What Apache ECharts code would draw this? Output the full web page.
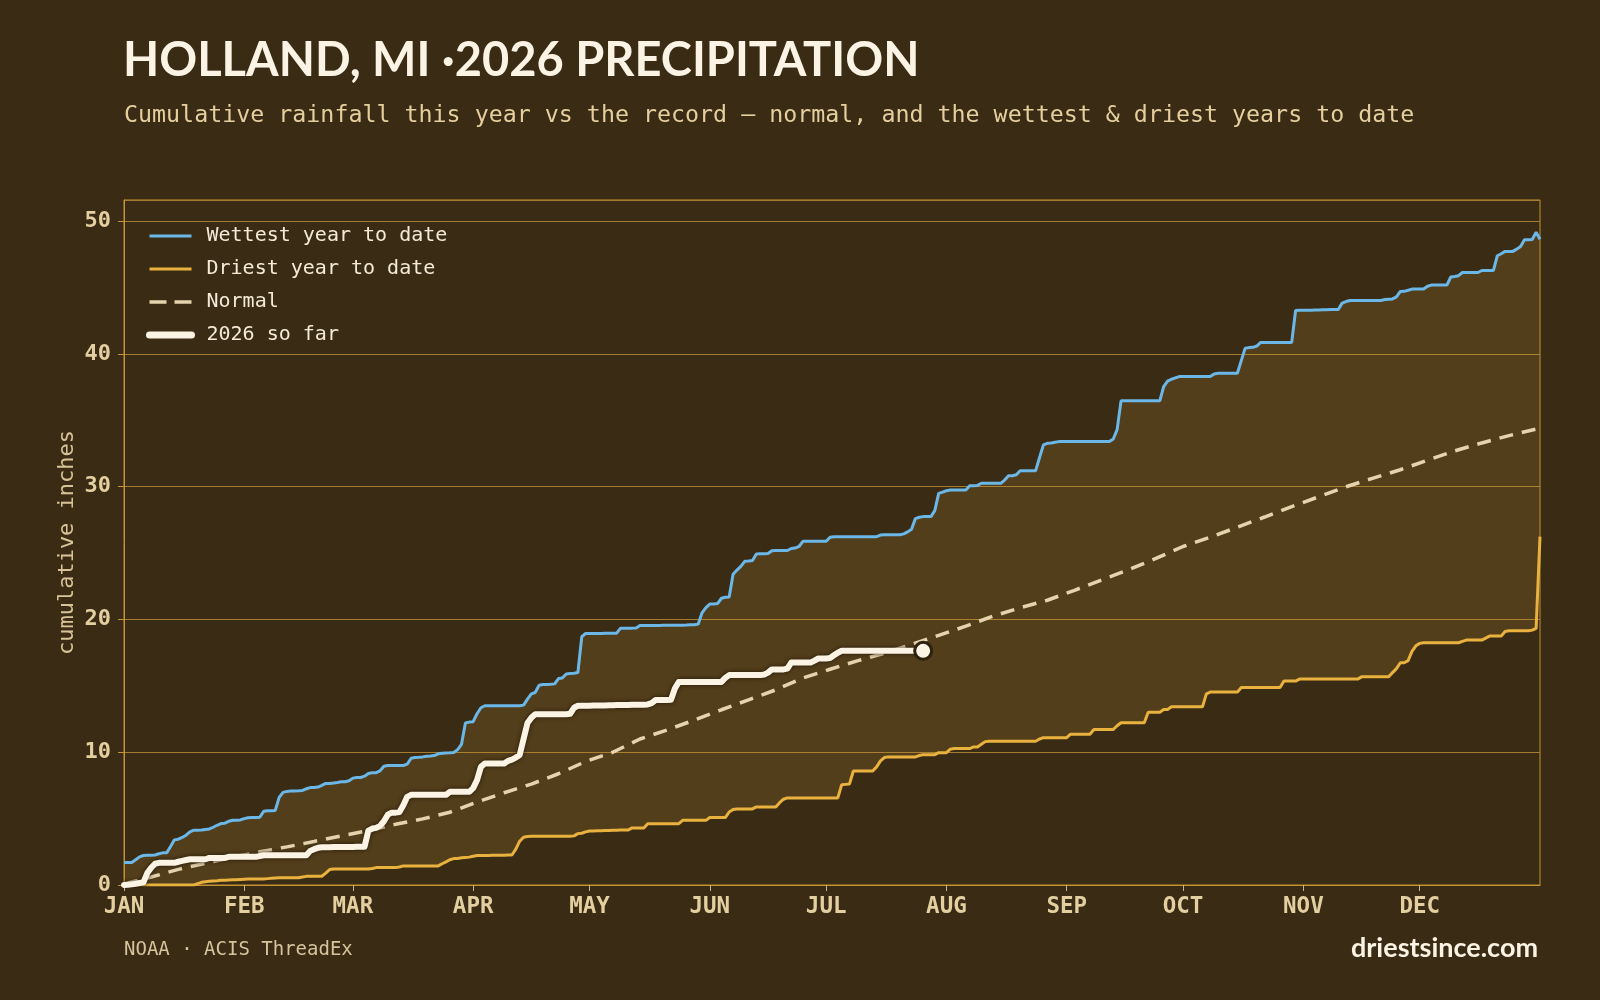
<!DOCTYPE html>
<html>
<head>
<meta charset="utf-8">
<script src="https://cdn.jsdelivr.net/npm/echarts@6/dist/echarts.min.js"></script>
<style>
  html, body { margin: 0; padding: 0; background: #3a2b14; }
  #main { width: 1600px; height: 1000px; }
</style>
</head>
<body>
<div id="main"></div>
<script>
// month starts (day index from Jan 1) and their labels
var monthStart = [0, 31, 59, 90, 120, 151, 181, 212, 243, 273, 304, 334];
var monthLabels = ['JAN', 'FEB', 'MAR', 'APR', 'MAY', 'JUN', 'JUL', 'AUG', 'SEP', 'OCT', 'NOV', 'DEC'];

// wettest year to date, cumulative inches, one value per day (0..365)
var wettest = [
  1.69,1.69,1.70,1.90,2.12,2.22,2.24,2.25,2.26,2.35,
  2.42,2.42,2.90,3.40,3.45,3.58,3.75,4.00,4.13,4.13,
  4.14,4.18,4.22,4.35,4.50,4.63,4.66,4.80,4.88,4.88,
  4.90,5.00,5.06,5.08,5.08,5.10,5.55,5.59,5.60,5.62,
  6.60,6.98,7.05,7.09,7.09,7.10,7.12,7.25,7.34,7.34,
  7.38,7.50,7.65,7.65,7.68,7.72,7.77,7.78,7.85,8.05,
  8.10,8.10,8.20,8.40,8.45,8.46,8.60,8.95,9.00,9.00,
  9.00,9.00,9.00,9.10,9.55,9.60,9.62,9.65,9.70,9.72,
  9.75,9.88,9.92,9.95,9.96,9.98,10.20,10.60,12.20,12.27,
  12.30,12.90,13.35,13.50,13.50,13.50,13.50,13.50,13.50,13.50,
  13.50,13.50,13.50,13.55,14.00,14.40,14.50,15.05,15.10,15.10,
  15.12,15.15,15.55,15.60,15.90,15.94,15.95,16.00,18.70,18.95,
  18.95,18.95,18.95,18.95,18.96,18.96,18.97,18.97,19.35,19.35,
  19.35,19.35,19.36,19.55,19.55,19.55,19.55,19.55,19.55,19.56,
  19.56,19.56,19.56,19.57,19.57,19.58,19.60,19.60,19.65,20.50,
  20.90,21.16,21.16,21.20,21.60,21.67,21.70,23.40,23.72,24.00,
  24.38,24.40,24.45,24.93,24.95,24.95,24.97,25.18,25.20,25.20,
  25.20,25.20,25.35,25.38,25.50,25.89,25.90,25.90,25.90,25.90,
  25.90,25.90,26.20,26.24,26.24,26.24,26.24,26.24,26.24,26.24,
  26.24,26.24,26.24,26.24,26.24,26.36,26.38,26.38,26.38,26.38,
  26.38,26.45,26.60,26.80,27.60,27.70,27.75,27.75,27.75,28.20,
  29.50,29.60,29.70,29.75,29.75,29.75,29.75,29.75,30.08,30.08,
  30.10,30.26,30.26,30.26,30.26,30.26,30.26,30.50,30.83,30.83,
  30.90,31.20,31.21,31.21,31.21,31.21,32.20,33.15,33.27,33.30,
  33.35,33.40,33.40,33.40,33.40,33.40,33.40,33.40,33.40,33.40,
  33.40,33.40,33.40,33.40,33.40,33.60,34.30,36.47,36.47,36.47,
  36.47,36.47,36.47,36.47,36.47,36.47,36.47,36.47,37.55,37.95,
  38.10,38.20,38.30,38.30,38.30,38.30,38.30,38.30,38.30,38.30,
  38.30,38.50,38.55,38.55,38.55,38.55,38.55,38.55,39.50,40.44,
  40.48,40.50,40.60,40.87,40.87,40.87,40.87,40.87,40.87,40.87,
  40.87,40.87,43.28,43.30,43.30,43.30,43.30,43.31,43.32,43.33,
  43.34,43.35,43.35,43.35,43.83,43.95,44.03,44.03,44.03,44.03,
  44.03,44.03,44.03,44.03,44.03,44.10,44.13,44.15,44.30,44.71,
  44.72,44.80,44.89,44.89,44.89,44.89,45.10,45.19,45.19,45.19,
  45.19,45.19,45.80,45.84,45.90,46.14,46.14,46.14,46.14,46.14,
  46.29,46.29,46.29,46.29,47.40,47.55,47.73,47.73,47.73,47.90,
  48.10,48.60,48.60,48.62,49.18,48.65
];

// driest year to date
var driest = [
  0,0,0,0,0,0,0,0,0,0,
  0,0,0,0,0,0,0,0,0,0.10,
  0.20,0.25,0.28,0.30,0.32,0.35,0.36,0.38,0.40,0.40,
  0.42,0.44,0.46,0.46,0.46,0.46,0.46,0.48,0.50,0.52,
  0.54,0.54,0.54,0.54,0.54,0.54,0.60,0.65,0.66,0.66,
  0.66,0.66,0.90,1.16,1.21,1.21,1.21,1.21,1.21,1.21,
  1.21,1.21,1.21,1.21,1.25,1.31,1.31,1.31,1.31,1.31,
  1.31,1.36,1.44,1.44,1.44,1.44,1.44,1.44,1.44,1.44,
  1.44,1.44,1.60,1.74,1.90,1.99,2.00,2.05,2.08,2.10,
  2.16,2.22,2.22,2.23,2.23,2.24,2.24,2.25,2.25,2.26,
  2.26,2.70,3.30,3.60,3.65,3.67,3.67,3.67,3.67,3.67,
  3.67,3.67,3.67,3.67,3.67,3.67,3.70,3.87,3.90,4.00,
  4.07,4.07,4.08,4.09,4.10,4.11,4.12,4.13,4.14,4.15,
  4.15,4.30,4.30,4.30,4.30,4.62,4.62,4.62,4.62,4.62,
  4.62,4.62,4.62,4.62,4.87,4.87,4.87,4.87,4.87,4.87,
  4.87,5.08,5.08,5.08,5.08,5.08,5.50,5.68,5.73,5.73,
  5.73,5.73,5.73,5.88,5.88,5.88,5.88,5.88,5.88,6.20,
  6.46,6.56,6.56,6.56,6.56,6.56,6.56,6.56,6.56,6.56,
  6.56,6.56,6.56,6.56,6.56,7.56,7.58,7.60,8.59,8.59,
  8.59,8.59,8.59,8.59,8.90,9.35,9.60,9.65,9.65,9.65,
  9.65,9.65,9.65,9.65,9.65,9.75,9.82,9.82,9.82,9.82,
  9.97,9.97,9.97,10.23,10.28,10.28,10.28,10.28,10.28,10.40,
  10.40,10.60,10.80,10.83,10.83,10.83,10.83,10.83,10.83,10.83,
  10.83,10.83,10.83,10.83,10.83,10.83,11.00,11.10,11.10,11.10,
  11.10,11.10,11.10,11.10,11.36,11.36,11.36,11.36,11.36,11.36,
  11.71,11.71,11.71,11.71,11.71,11.71,12.00,12.22,12.22,12.22,
  12.22,12.22,12.22,12.22,13.02,13.02,13.02,13.02,13.22,13.22,
  13.42,13.42,13.42,13.42,13.42,13.42,13.42,13.42,13.42,14.40,
  14.53,14.53,14.53,14.53,14.53,14.53,14.53,14.53,14.88,14.88,
  14.88,14.88,14.88,14.88,14.88,14.88,14.88,14.88,14.88,15.36,
  15.36,15.36,15.36,15.51,15.51,15.51,15.51,15.51,15.51,15.51,
  15.51,15.51,15.51,15.51,15.51,15.51,15.51,15.51,15.51,15.68,
  15.68,15.68,15.68,15.68,15.68,15.68,15.68,16.00,16.30,16.74,
  16.74,16.90,17.60,18.02,18.20,18.25,18.25,18.25,18.25,18.25,
  18.25,18.25,18.25,18.25,18.25,18.35,18.45,18.45,18.45,18.45,
  18.45,18.60,18.75,18.75,18.75,18.75,19.10,19.15,19.15,19.15,
  19.15,19.15,19.15,19.20,19.33,26.24
];

// this year so far (through late July)
var thisYear = [
  0,0.02,0.05,0.10,0.15,0.20,0.90,1.30,1.60,1.67,
  1.67,1.67,1.67,1.67,1.75,1.82,1.88,1.94,1.94,1.94,
  1.94,1.94,2.04,2.04,2.04,2.04,2.04,2.12,2.12,2.12,
  2.12,2.12,2.12,2.12,2.12,2.18,2.24,2.24,2.24,2.24,
  2.24,2.24,2.24,2.24,2.24,2.24,2.24,2.24,2.57,2.70,
  2.80,2.84,2.85,2.85,2.86,2.86,2.86,2.87,2.87,2.87,
  2.88,2.88,2.88,4.10,4.25,4.30,4.45,4.80,5.30,5.45,
  5.45,5.50,6.00,6.64,6.79,6.79,6.79,6.79,6.79,6.79,
  6.79,6.79,6.79,6.79,7.02,7.02,7.02,7.02,7.02,7.02,
  7.30,7.90,8.90,9.15,9.15,9.15,9.15,9.15,9.15,9.35,
  9.45,9.60,9.80,11.00,12.20,12.60,12.87,12.87,12.87,12.87,
  12.87,12.87,12.87,12.87,12.87,12.90,13.35,13.50,13.50,13.50,
  13.51,13.52,13.52,13.53,13.53,13.54,13.54,13.55,13.55,13.56,
  13.56,13.57,13.57,13.58,13.58,13.60,13.70,13.93,13.93,13.93,
  13.93,13.95,14.80,15.30,15.30,15.30,15.30,15.30,15.30,15.30,
  15.30,15.30,15.30,15.30,15.30,15.60,15.81,15.81,15.81,15.81,
  15.81,15.81,15.81,15.81,15.81,15.85,16.00,16.24,16.24,16.24,
  16.24,16.30,16.76,16.76,16.76,16.76,16.76,16.76,16.90,17.07,
  17.07,17.07,17.10,17.30,17.50,17.64,17.64,17.64,17.64,17.64,
  17.64,17.64,17.64,17.64,17.64,17.64,17.64,17.64,17.64,17.64,
  17.64,17.64,17.64,17.64,17.64,17.64,17.64
];

// normal, read about once a week
var normalDays = [0,7,14,21,28,35,42,49,56,63,70,77,84,91,98,105,112,119,126,133,140,147,154,161,168,175,182,189,196,203,210,217,224,231,238,245,252,259,266,273,280,287,294,301,308,315,322,329,336,343,350,357,365];
var normalVals = [0.08,0.60,1.18,1.64,2.10,2.50,2.87,3.28,3.70,4.10,4.57,4.98,5.48,6.25,6.95,7.60,8.38,9.30,10.00,11.00,11.68,12.42,13.20,13.95,14.70,15.60,16.25,16.88,17.46,18.12,18.80,19.50,20.25,20.88,21.45,22.20,22.98,23.75,24.60,25.50,26.20,26.95,27.72,28.50,29.25,30.00,30.65,31.28,32.00,32.70,33.30,33.85,34.41];

var days = wettest.map(function (v, i) { return i; });
var bandHeight = wettest.map(function (v, i) { return +(v - driest[i]).toFixed(2); });
var normalData = normalDays.map(function (d, i) { return [d, normalVals[i]]; });
var lastDay = thisYear.length - 1;

var mono = 'DejaVu Sans Mono';
var gold = '#c39233';

var myChart = echarts.init(document.getElementById('main'));

myChart.setOption({
    backgroundColor: '#3a2b14',
    animation: false,
    title: [
        {
            text: 'HOLLAND, MI ·2026 PRECIPITATION',
            left: 123, top: 37, padding: 0,
            textStyle: { fontFamily: 'Lato', fontWeight: 'bold', fontSize: 47, color: '#fbf4e4' }
        },
        {
            text: 'Cumulative rainfall this year vs the record — normal, and the wettest & driest years to date',
            left: 124, top: 104, padding: 0,
            textStyle: { fontFamily: mono, fontWeight: 'normal', fontSize: 23.3, color: '#e6cf9e' }
        },
        {
            text: 'NOAA · ACIS ThreadEx',
            left: 124, top: 941, padding: 0,
            textStyle: { fontFamily: mono, fontWeight: 'normal', fontSize: 19, color: '#d6c49c' }
        },
        {
            text: 'driestsince.com',
            right: 62, top: 935, padding: 0,
            textStyle: { fontFamily: 'Lato', fontWeight: 'bold', fontSize: 27, color: '#fbf4e4' }
        }
    ],
    legend: {
        orient: 'vertical',
        left: 141, top: 221,
        itemWidth: 42, itemHeight: 14, itemGap: 13,
        itemStyle: { opacity: 0 },
        data: [
            { name: 'Wettest year to date', lineStyle: { width: 3 } },
            { name: 'Driest year to date', lineStyle: { width: 3 } },
            { name: 'Normal', lineStyle: { width: 3.5, type: [17, 8] } },
            { name: '2026 so far', lineStyle: { width: 7, cap: 'round', shadowBlur: 0 } }
        ],
        textStyle: { fontFamily: mono, fontSize: 20, color: '#f3ead7', padding: [0, 0, 0, 10] }
    },
    grid: {
        left: 124, right: 60, top: 200, bottom: 115,
        show: true, borderColor: gold, borderWidth: 1
    },
    xAxis: {
        type: 'category',
        data: days,
        boundaryGap: false,
        axisLine: { lineStyle: { color: gold } },
        axisTick: {
            alignWithLabel: true, length: 6,
            interval: function (i) { return monthStart.indexOf(i) >= 0; },
            lineStyle: { color: '#c9b48a' }
        },
        axisLabel: {
            interval: function (i) { return monthStart.indexOf(i) >= 0; },
            formatter: function (v, i) { return monthLabels[monthStart.indexOf(i)]; },
            margin: 11,
            fontFamily: mono, fontWeight: 'bold', fontSize: 22.5, color: '#e3cfa0'
        },
        splitLine: { show: false }
    },
    yAxis: {
        type: 'value',
        min: 0, max: 51.6, interval: 10,
        name: 'cumulative inches',
        nameLocation: 'middle', nameGap: 46, nameRotate: 90, nameMoveOverlap: false,
        nameTextStyle: { fontFamily: mono, fontSize: 22, color: '#d7c396' },
        axisLine: { show: true, lineStyle: { color: gold } },
        axisTick: { show: true, length: 6, lineStyle: { color: gold } },
        axisLabel: {
            showMaxLabel: false, margin: 13,
            fontFamily: mono, fontWeight: 'bold', fontSize: 22, color: '#e3cfa0'
        },
        splitLine: { lineStyle: { color: '#a57c2f', width: 1 } }
    },
    series: [
        {
            name: 'base', type: 'line', stack: 'band', data: driest,
            symbol: 'none', silent: true, lineStyle: { opacity: 0 }
        },
        {
            name: 'band', type: 'line', stack: 'band', data: bandHeight,
            symbol: 'none', silent: true, lineStyle: { opacity: 0 },
            areaStyle: { color: 'rgba(200,152,62,0.18)', opacity: 1 }
        },
        {
            name: 'Wettest year to date', type: 'line', data: wettest,
            symbol: 'none', z: 3,
            lineStyle: { color: '#6bb8e8', width: 3 }, itemStyle: { color: '#6bb8e8' }
        },
        {
            name: 'Driest year to date', type: 'line', data: driest,
            symbol: 'none', z: 3,
            lineStyle: { color: '#e9b23e', width: 3 }, itemStyle: { color: '#e9b23e' }
        },
        {
            name: 'Normal', type: 'line', data: normalData,
            symbol: 'none', z: 4,
            lineStyle: { color: '#e5d3ad', width: 3.5, type: [14, 9] }, itemStyle: { color: '#e5d3ad' }
        },
        {
            name: '2026 so far', type: 'line', data: thisYear,
            symbol: 'none', z: 5,
            lineStyle: {
                color: '#fbf4e4', width: 6, cap: 'round', join: 'round',
                shadowColor: 'rgba(30,20,5,0.9)', shadowBlur: 4
            },
            itemStyle: { color: '#fbf4e4' }
        },
        {
            name: 'today', type: 'scatter', z: 6,
            data: [[lastDay, thisYear[lastDay]]],
            symbol: 'circle', symbolSize: 17,
            itemStyle: { color: '#fbf4e4', opacity: 1, borderColor: '#2e220f', borderWidth: 3 }
        }
    ]
});
</script>
</body>
</html>
